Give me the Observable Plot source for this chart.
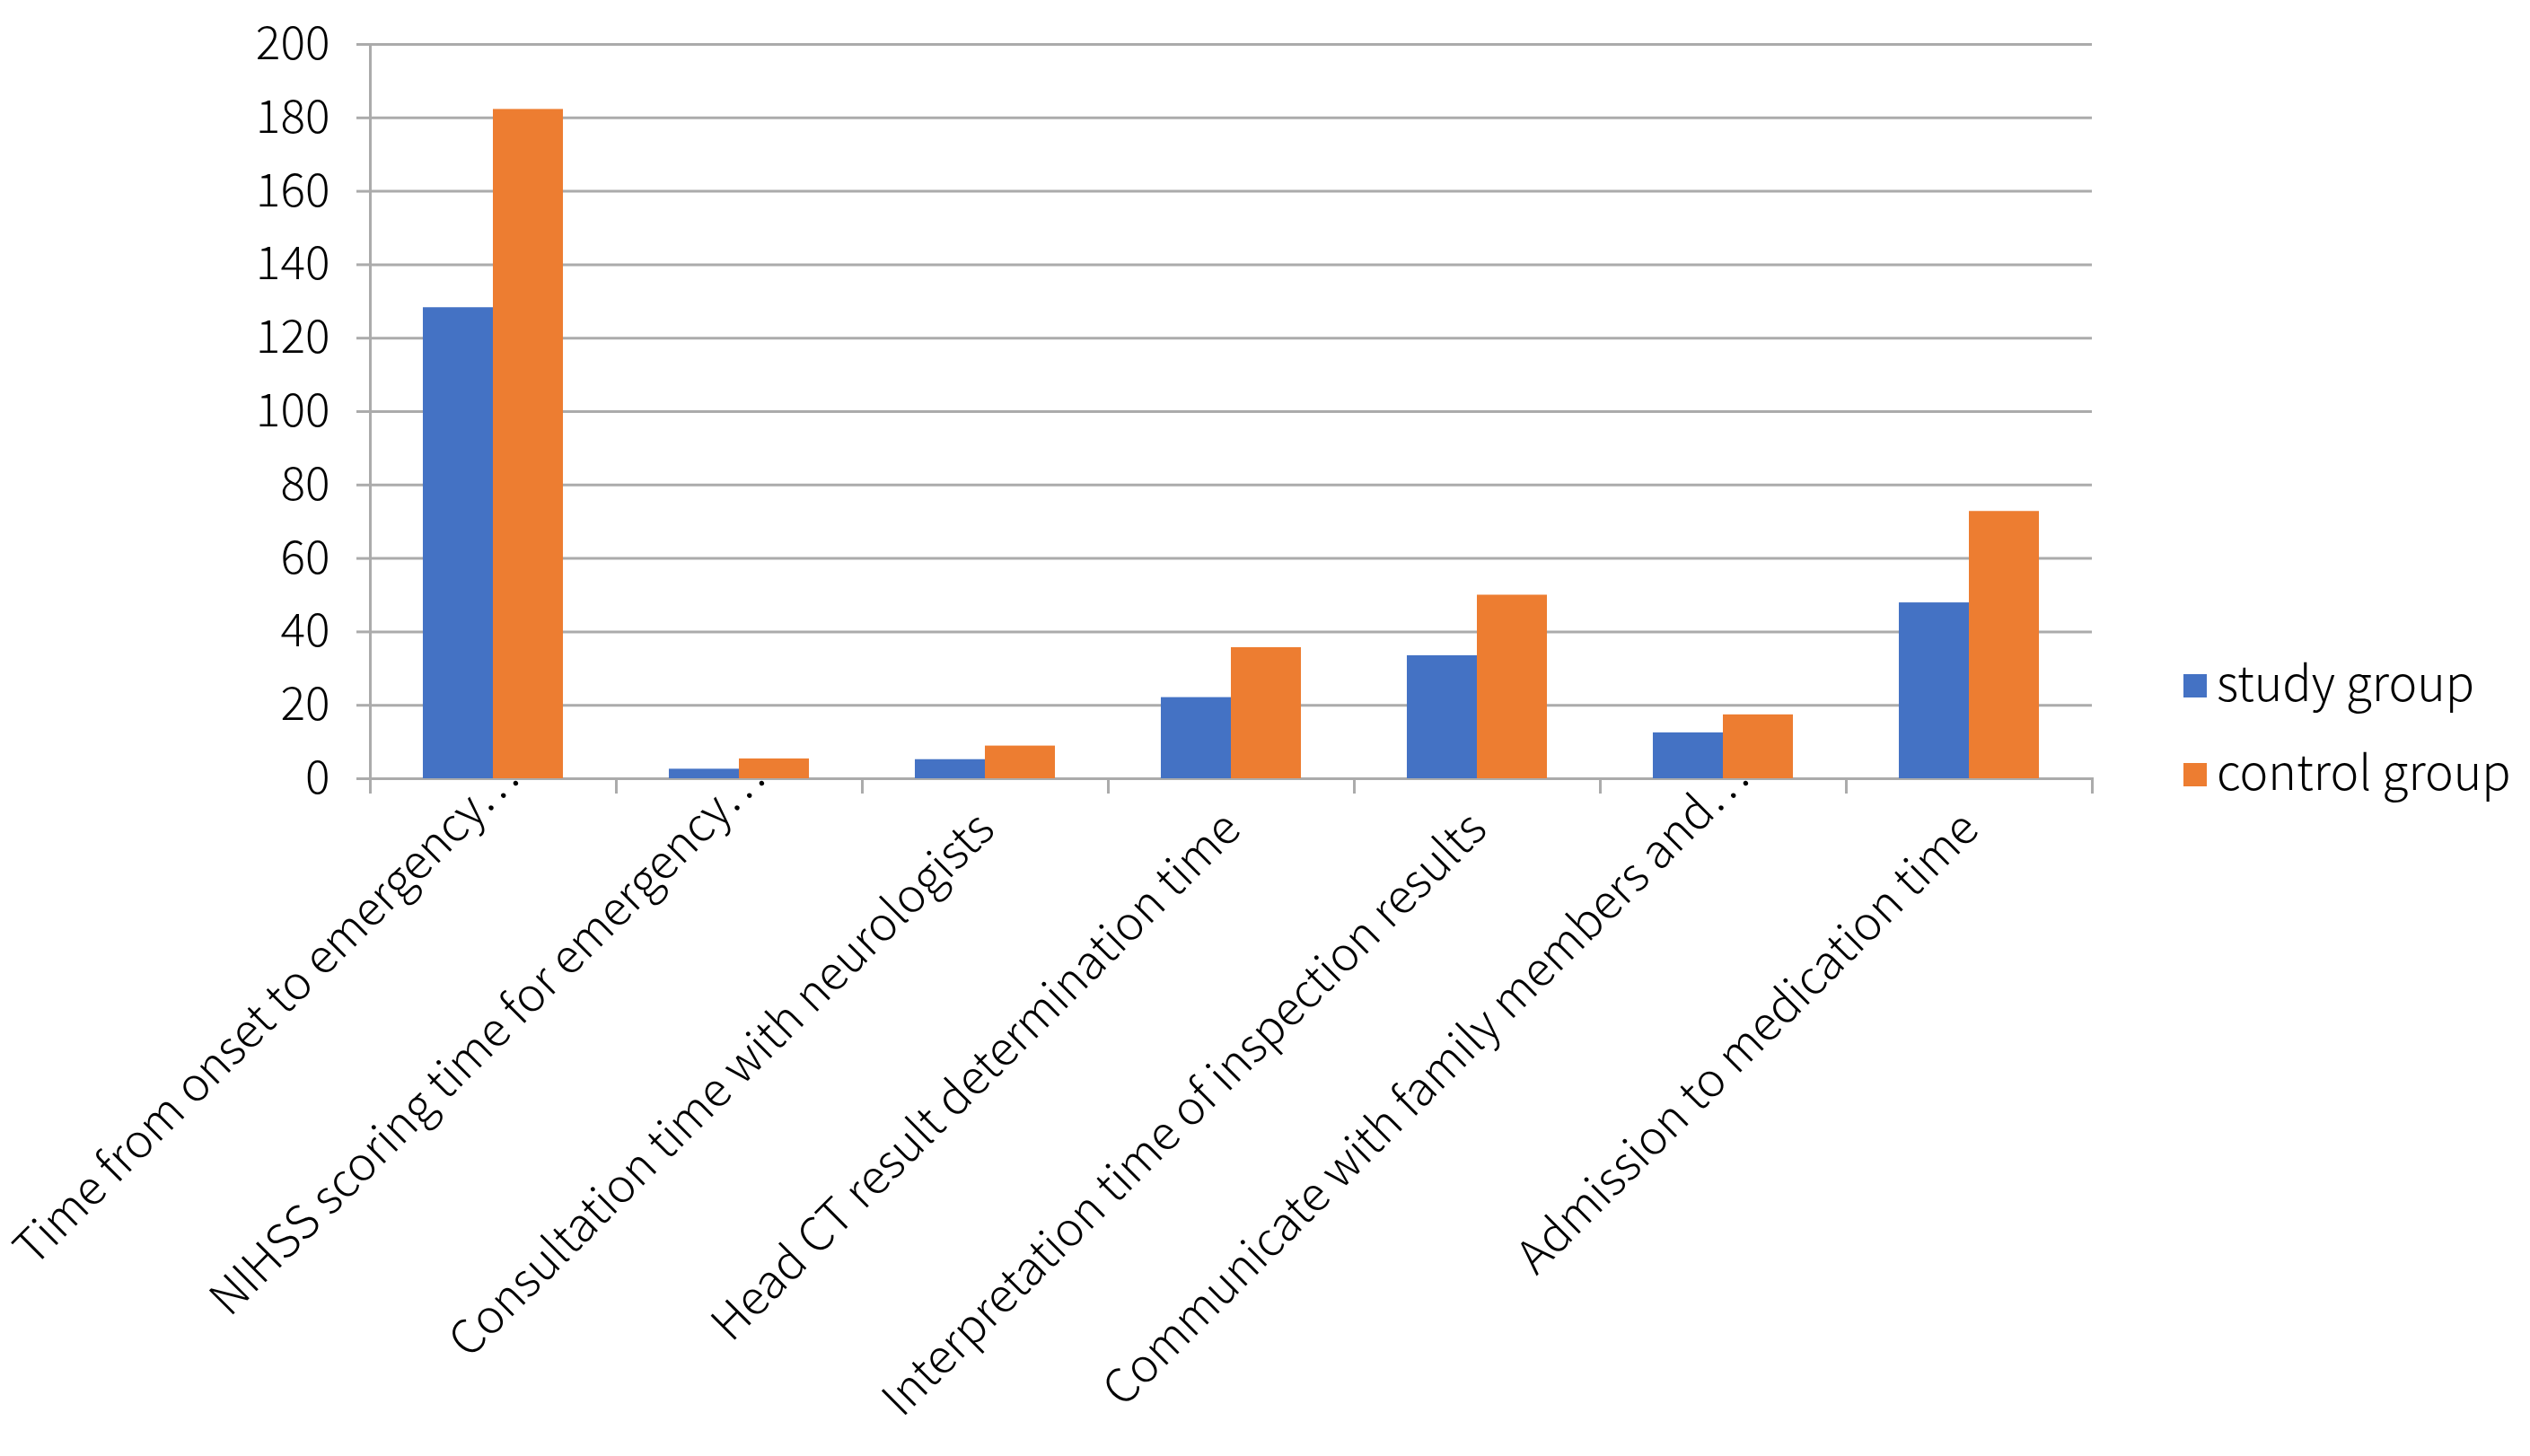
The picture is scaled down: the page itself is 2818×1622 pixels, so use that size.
<!DOCTYPE html>
<html>
<head>
<meta charset="utf-8">
<script src="https://cdn.jsdelivr.net/npm/d3@7"></script>
<script src="https://cdn.jsdelivr.net/npm/@observablehq/plot@0.6"></script>
<style>
  html, body { margin: 0; padding: 0; background: #ffffff; overflow: hidden; }
  #wrap { position: relative; width: 2818px; height: 1622px; }
  svg text { font-feature-settings: "pwid" 1; font-variant-east-asian: proportional-width; font-weight: 300; }
</style>
</head>
<body>
<div id="wrap"></div>
<script>
// ---- data ----
const categories = [
  "Time from onset to emergency…",
  "NIHSS scoring time for emergency…",
  "Consultation time with neurologists",
  "Head CT result determination time",
  "Interpretation time of inspection results",
  "Communicate with family members and…",
  "Admission to medication time"
];
const groups = ["study group", "control group"];
const study = [128.3, 2.6, 5.2, 22.1, 33.5, 12.5, 47.9];
const control = [182.3, 5.4, 8.9, 35.7, 50.0, 17.4, 72.8];
const yTicks = [0, 20, 40, 60, 80, 100, 120, 140, 160, 180, 200];

// ---- styles ----
const FONT = "'Noto Sans CJK SC', 'Noto Sans', sans-serif";
const FS = 51.5;      // y tick labels
const FS_CAT = 52;    // category labels
const FS_LEG = 53.5;  // legend
const COLORS = ["#4472C4", "#ED7D31"];
const GRID = "#ababab";
const W = 2818, H = 1622;
const M = {top: 49, right: 488, bottom: 755, left: 412};
const frameH = H - M.top - M.bottom;

const rows = categories.flatMap((c, i) => [
  {category: c, group: groups[0], value: study[i]},
  {category: c, group: groups[1], value: control[i]}
]);

const truncated = c => c.endsWith("…");

const chart = Plot.plot({
  width: W,
  height: H,
  marginTop: M.top,
  marginRight: M.right,
  marginBottom: M.bottom,
  marginLeft: M.left,
  style: {fontFamily: FONT, fontSize: FS + "px", background: "transparent", color: "#000"},
  fx: {domain: categories, padding: 0, round: false, axis: null, label: null},
  x: {domain: groups, paddingInner: 0, paddingOuter: 0.756, round: false, axis: null},
  y: {domain: [0, 200], axis: null},
  color: {domain: groups, range: COLORS},
  marks: [
    Plot.gridY(yTicks, {stroke: GRID, strokeOpacity: 1, strokeWidth: 3}),
    Plot.axisY(yTicks, {
      anchor: "left", tickSize: 15, tickPadding: 30, stroke: GRID, strokeOpacity: 1,
      strokeWidth: 3, fontSize: FS, tickFormat: d => String(d), label: null
    }),
    Plot.frame({facet: "super", anchor: "left", stroke: GRID, strokeWidth: 3, insetBottom: -15}),
    Plot.frame({anchor: "left", stroke: GRID, strokeWidth: 3, insetTop: frameH, insetBottom: -15}),
    Plot.frame({anchor: "right", stroke: GRID, strokeWidth: 3, insetTop: frameH, insetBottom: -15}),
    Plot.barY(rows, {fx: "category", x: "group", y: "value", fill: "group"}),
    Plot.text(categories.filter(c => !truncated(c)), {
      fx: d => d, text: d => d, frameAnchor: "bottom", rotate: -45,
      textAnchor: "end", lineAnchor: "bottom", dx: 13, dy: 59, fontSize: FS_CAT, fill: "#000"
    }),
    Plot.text(categories.filter(truncated), {
      fx: d => d, text: d => d, frameAnchor: "bottom", rotate: -45,
      textAnchor: "end", lineAnchor: "bottom", dx: 31, dy: 2, fontSize: FS_CAT, fill: "#000"
    })
  ]
});

const wrap = document.getElementById("wrap");
wrap.appendChild(chart);

// ---- legend (right side) ----
const legend = d3.create("svg")
  .attr("width", W)
  .attr("height", H)
  .style("position", "absolute")
  .style("left", "0px")
  .style("top", "0px")
  .style("font-family", FONT);
const baselines = [781, 880];
groups.forEach((g, i) => {
  legend.append("rect")
    .attr("x", 2432).attr("y", baselines[i] - 30)
    .attr("width", 26).attr("height", 26)
    .attr("fill", COLORS[i]);
  legend.append("text")
    .attr("x", 2469).attr("y", baselines[i])
    .attr("font-size", FS_LEG)
    .attr("fill", "#000")
    .text(g);
});
wrap.appendChild(legend.node());
</script>
</body>
</html>
